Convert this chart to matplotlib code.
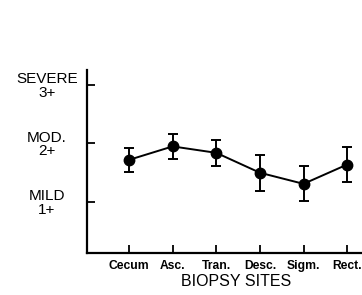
import numpy as np
import matplotlib
matplotlib.use('Agg')
import matplotlib.pyplot as plt

# data
sites = ['Cecum', 'Asc.', 'Tran.', 'Desc.', 'Sigm.', 'Rect.']
severity = [1.72, 1.95, 1.84, 1.50, 1.31, 1.64]
err = [0.21, 0.22, 0.22, 0.31, 0.30, 0.30]
ylevels = [1, 2, 3]
ylabels = ['MILD\n1+', 'MOD.\n2+', 'SEVERE\n3+']

plt.rcParams['font.family'] = ['Liberation Sans', 'DejaVu Sans']

fig = plt.figure(figsize=(3.62, 2.95), dpi=100)
ax = fig.add_axes([87/362, 42/295, 1 - 87/362, 183/295])

x = np.arange(len(sites))
ax.errorbar(x, severity, yerr=err, fmt='o-', color='black', ms=7.5,
            lw=1.4, elinewidth=1.4, capsize=3.5, capthick=1.4)

ax.set_xlim(-0.963, 5.34)
ax.set_ylim(0.128, 3.256)

ax.set_xticks(x)
ax.set_xticklabels(sites, fontsize=8.7, fontweight='bold')
ax.set_yticks(ylevels)
ax.set_yticklabels(ylabels, fontsize=11)
for t in ax.get_yticklabels():
    t.set_ha('center')
    t.set_multialignment('center')
    t.set_linespacing(0.95)

ax.tick_params(axis='both', direction='in', length=6, width=1.3)
ax.tick_params(axis='y', pad=29)
ax.tick_params(axis='x', pad=5)

for s in ['top', 'right']:
    ax.spines[s].set_visible(False)
for s in ['left', 'bottom']:
    ax.spines[s].set_linewidth(1.6)

fig.text(236/362, 1 - 282/295, 'BIOPSY SITES', fontsize=11.5,
         ha='center', va='center')

fig.savefig('out.png', dpi=100)
